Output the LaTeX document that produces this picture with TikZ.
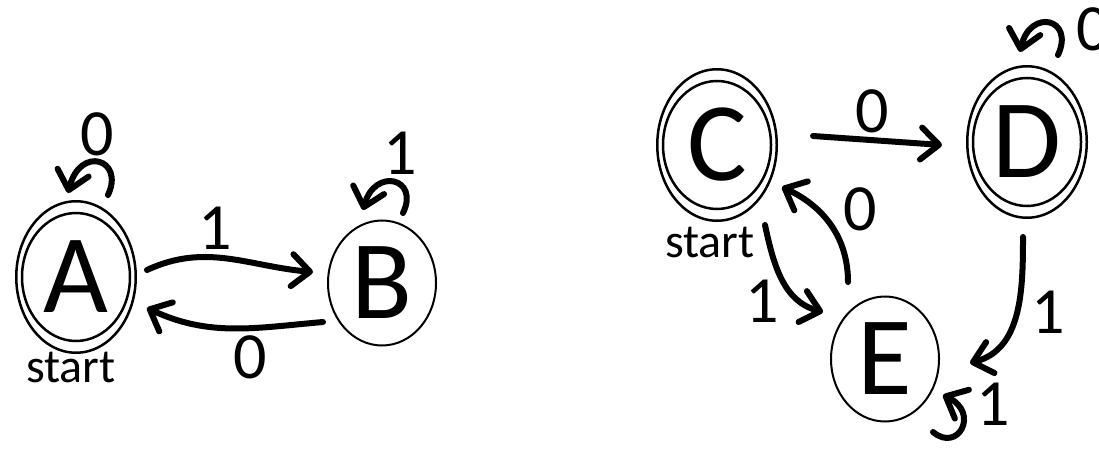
\documentclass[tikz,border=0pt]{standalone}
\usepackage{fontspec}
\setmainfont{Carlito}
\usetikzlibrary{arrows.meta,shapes.geometric,calc}

\begin{document}
\begin{tikzpicture}[
  x=1pt, y=1pt,
  acc/.style={draw, ellipse, line width=2.5pt, minimum width=119.5pt, minimum height=151.5pt,
              inner sep=0pt, font=\fontsize{112}{120}\selectfont,
              path picture={\draw[line width=2.5pt] (path picture bounding box.center)
                ellipse [x radius=54pt, y radius=64pt];}},
  st/.style={draw, ellipse, line width=2pt, minimum width=108pt, minimum height=125pt,
             inner sep=0pt, font=\fontsize{112}{120}\selectfont},
  lbl/.style={inner sep=0pt, font=\fontsize{66}{72}\selectfont},
  note/.style={inner sep=0pt, font=\fontsize{48}{54}\selectfont},
  edge/.style={line width=6pt, line cap=round, -{Straight Barb[length=18pt,width=32pt,round]}}
]
\useasboundingbox (0,0) rectangle (1099,453);
% left machine
\node[acc] (A) at (76,176) {A};
\node[st] (B) at (382,170) {B};
\node[note] (startA) at (71,86) {start};
\draw[edge] ($(A)+(71,7)$) to[out=25,in=175] ($(B)+(-69,11)$);
\draw[edge] ($(B)+(-59,-39)$) to[out=185,in=-25] ($(A)+(71,-31)$);
\draw[edge] ($(A)+(32,82)$) .. controls ($(A)+(49,118)$) and ($(A)+(4,132)$) .. ($(A)+(-8,84)$);
\draw[edge] ($(B)+(21,70)$) .. controls ($(B)+(38,105)$) and ($(B)+(-7,116)$) .. ($(B)+(-19,73)$);
\node[lbl] (lab) at (215,225) {1};
\node[lbl] (lba) at (250,96) {0};
\node[lbl] (laa) at (97,319) {0};
\node[lbl] (lbb) at (400,300) {1};
% right machine
\node[acc] (C) at (717,308) {C};
\node[acc] (D) at (1027,311) {D};
\node[st] (E) at (885,94) {E};
\node[note] (startC) at (710,211) {start};
\draw[edge] ($(C)+(96,9)$) -- ($(D)+(-85,-3)$);
\draw[edge] ($(D)+(31,87)$) .. controls ($(D)+(48,124)$) and ($(D)+(3,134)$) .. ($(D)+(-7,90)$);
\draw[edge] ($(C)+(48,-80)$) to[out=-78,in=165] ($(E)+(-62,47)$);
\draw[edge] ($(E)+(-37,77)$) to[out=90,in=-25] ($(C)+(65,-42)$);
\draw[edge] ($(D)+(-4,-95)$) to[out=-90,in=15] ($(E)+(85,-4)$);
\draw[edge] ($(E)+(48,-73)$) .. controls ($(E)+(73,-94)$) and ($(E)+(95,-54)$) .. ($(E)+(58,-36)$);
\node[lbl] (lcd) at (872,342) {0};
\node[lbl] (ldd) at (1093,424) {0};
\node[lbl] (lce) at (762,152) {1};
\node[lbl] (lec) at (860,244) {0};
\node[lbl] (lde) at (1048,141) {1};
\node[lbl] (lee) at (993,49) {1};
\end{tikzpicture}
\end{document}
